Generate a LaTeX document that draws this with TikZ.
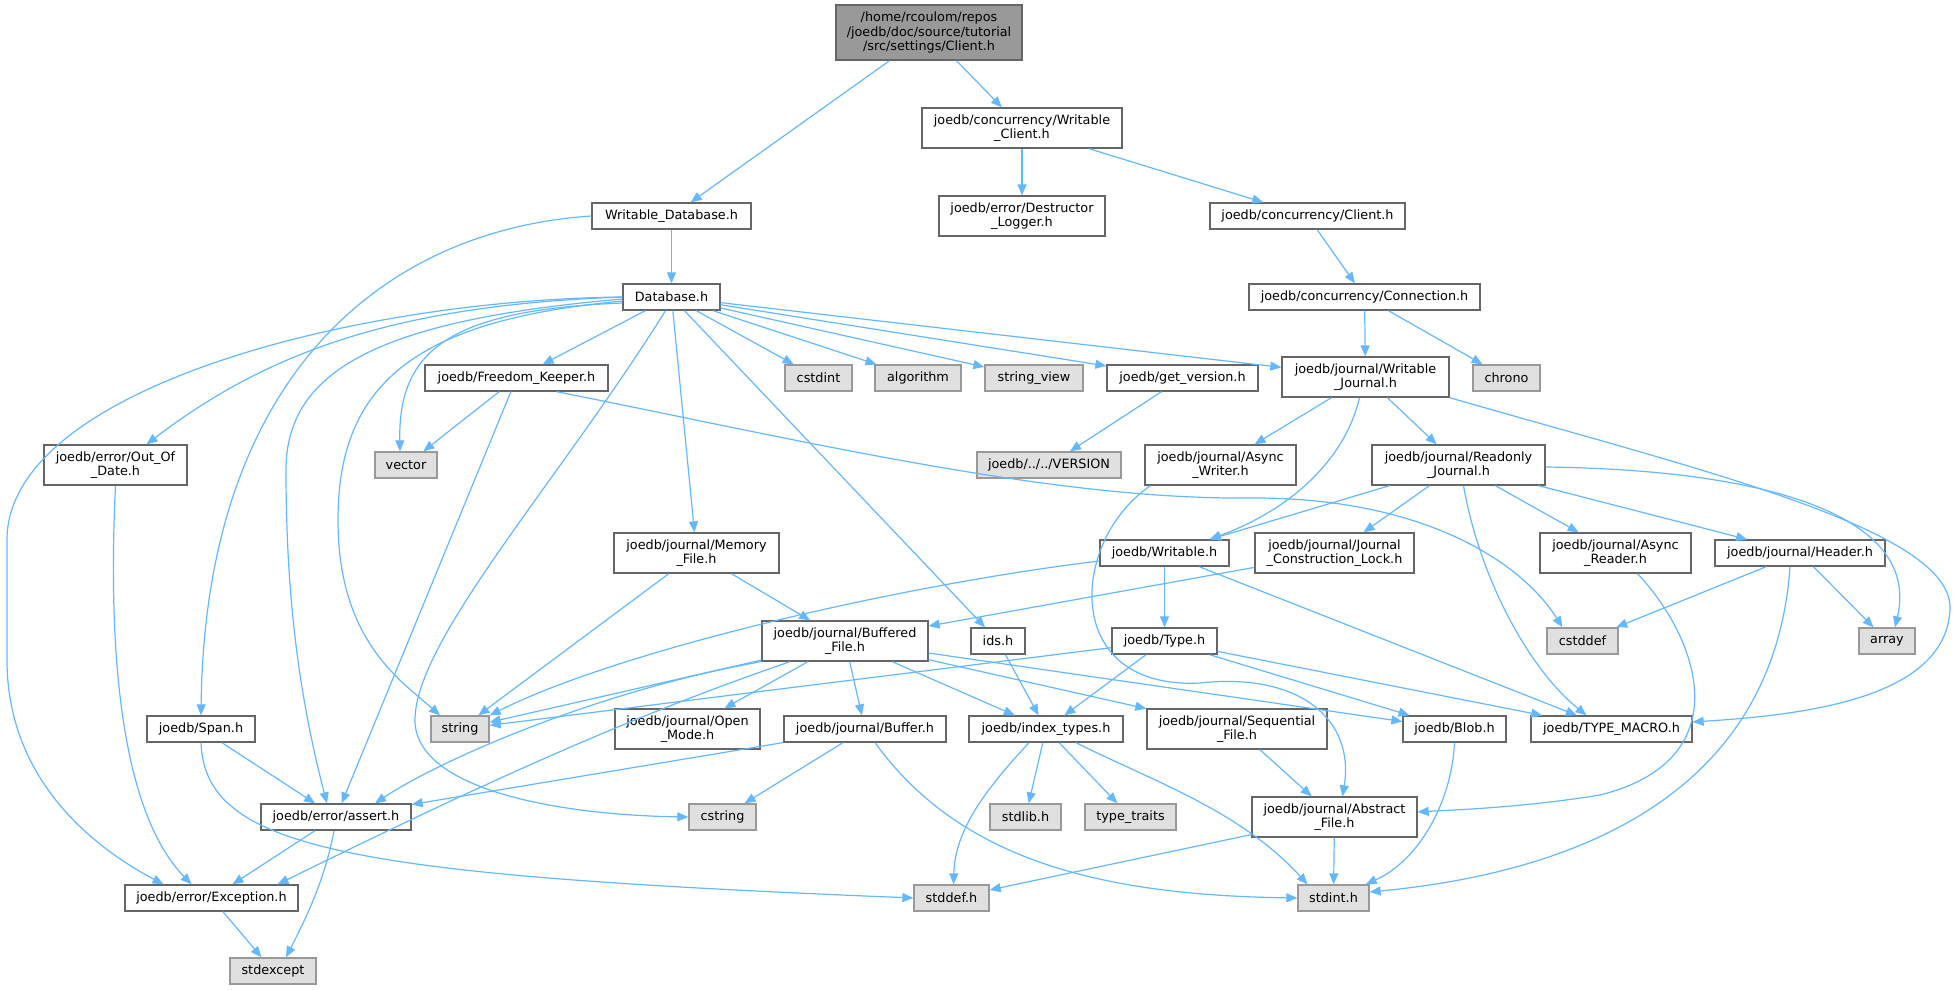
\documentclass[tikz,border=0pt]{standalone}
\usepackage{fontspec}
\setmainfont{DejaVu Sans}
\usetikzlibrary{arrows.meta}

\definecolor{edgeblue}{HTML}{63B8FF}
\definecolor{boxline}{HTML}{666666}
\definecolor{sysfill}{HTML}{E0E0E0}
\definecolor{sysline}{HTML}{999999}
\definecolor{rootfill}{HTML}{999999}

\tikzset{
  hfile/.style={draw=boxline,fill=white,line width=1.3pt,inner sep=0pt,minimum height=26pt,
    align=center,font=\fontsize{12.8}{14.6}\selectfont},
  hfiletwo/.style={hfile,minimum height=40pt},
  sysfile/.style={hfile,draw=sysline,fill=sysfill},
  rootfile/.style={hfile,fill=rootfill,minimum height=55pt},
  dep/.style={draw=edgeblue,line width=1.2pt,-{Triangle[length=11pt,width=9pt]}},
}

\begin{document}
\begin{tikzpicture}[x=1pt,y=-1pt]
\useasboundingbox (0,0) rectangle (1957,989);

\node[rootfile,minimum width=186pt] (root) at (929,32.5) {/home/rcoulom/repos\\/joedb/doc/source/tutorial\\/src/settings/Client.h};

\node[hfiletwo,minimum width=200pt] (wc) at (1022,128) {joedb/concurrency/Writable\\\_Client.h};
\node[hfile,minimum width=159pt] (wdb) at (671.5,216) {Writable\_Database.h};
\node[hfiletwo,minimum width=166pt] (dlog) at (1022,216) {joedb/error/Destructor\\\_Logger.h};
\node[hfile,minimum width=195pt] (cclient) at (1307.5,216) {joedb/concurrency/Client.h};

\node[hfile,minimum width=97pt] (db) at (671.5,297) {Database.h};
\node[hfile,minimum width=231pt] (conn) at (1364.5,297) {joedb/concurrency/Connection.h};

\node[hfile,minimum width=183pt] (fk) at (516.5,378) {joedb/Freedom\_Keeper.h};
\node[sysfile,minimum width=67pt] (cstdint) at (818.5,378) {cstdint};
\node[sysfile,minimum width=86pt] (algo) at (918,378) {algorithm};
\node[sysfile,minimum width=98pt] (sview) at (1034,378) {string\_view};
\node[hfile,minimum width=151pt] (getver) at (1182.5,378) {joedb/get\_version.h};
\node[hfiletwo,minimum width=167pt] (wj) at (1365.5,377) {joedb/journal/Writable\\\_Journal.h};
\node[sysfile,minimum width=67pt] (chrono) at (1506.5,378) {chrono};

\node[hfiletwo,minimum width=143pt] (ood) at (115.5,465) {joedb/error/Out\_Of\\\_Date.h};
\node[sysfile,minimum width=62pt] (vector) at (406,465) {vector};
\node[sysfile,minimum width=144pt] (version) at (1049,465) {joedb/../../VERSION};
\node[hfiletwo,minimum width=151pt] (aw) at (1220.5,465) {joedb/journal/Async\\\_Writer.h};
\node[hfiletwo,minimum width=173pt] (rj) at (1458.5,465) {joedb/journal/Readonly\\\_Journal.h};

\node[hfiletwo,minimum width=165pt] (mf) at (696.5,553) {joedb/journal/Memory\\\_File.h};
\node[hfile,minimum width=129pt] (writable) at (1164.5,553) {joedb/Writable.h};
\node[hfiletwo,minimum width=159pt] (jcl) at (1334.5,553) {joedb/journal/Journal\\\_Construction\_Lock.h};
\node[hfiletwo,minimum width=151pt] (ar) at (1615.5,553) {joedb/journal/Async\\\_Reader.h};
\node[hfile,minimum width=170pt] (header) at (1800,553) {joedb/journal/Header.h};

\node[hfiletwo,minimum width=166pt] (buf) at (845,641) {joedb/journal/Buffered\\\_File.h};
\node[hfile,minimum width=54pt] (ids) at (998,641) {ids.h};
\node[hfile,minimum width=105pt] (type) at (1164.5,641) {joedb/Type.h};
\node[sysfile,minimum width=71pt] (cstddef) at (1582.5,641) {cstddef};
\node[sysfile,minimum width=56pt] (array) at (1887,641) {array};

\node[hfile,minimum width=108pt] (span) at (201,729) {joedb/Span.h};
\node[sysfile,minimum width=58pt] (string) at (460,729) {string};
\node[hfiletwo,minimum width=145pt] (omode) at (687.5,729) {joedb/journal/Open\\\_Mode.h};
\node[hfile,minimum width=162pt] (buffer) at (865,729) {joedb/journal/Buffer.h};
\node[hfile,minimum width=154pt] (idx) at (1046,729) {joedb/index\_types.h};
\node[hfiletwo,minimum width=180pt] (seq) at (1237,729) {joedb/journal/Sequential\\\_File.h};
\node[hfile,minimum width=103pt] (blob) at (1454.5,729) {joedb/Blob.h};
\node[hfile,minimum width=161pt] (tm) at (1611.5,729) {joedb/TYPE\_MACRO.h};

\node[hfile,minimum width=150pt] (assert) at (336,817) {joedb/error/assert.h};
\node[sysfile,minimum width=67pt] (cstring) at (722.5,817) {cstring};
\node[sysfile,minimum width=71pt] (stdlib) at (1025.5,817) {stdlib.h};
\node[sysfile,minimum width=91pt] (ttraits) at (1130.5,817) {type\_traits};
\node[hfiletwo,minimum width=165pt] (af) at (1334.5,817) {joedb/journal/Abstract\\\_File.h};

\node[hfile,minimum width=173pt] (exc) at (211.5,898) {joedb/error/Exception.h};
\node[sysfile,minimum width=75pt] (stddef) at (951.5,898) {stddef.h};
\node[sysfile,minimum width=71pt] (stdint) at (1333.5,898) {stdint.h};
\node[sysfile,minimum width=86pt] (stdexcept) at (273,971) {stdexcept};

% top part
\draw[dep] (root) -- (wdb);
\draw[dep] (root) -- (wc);
\draw[dep] (wc) -- (dlog);
\draw[dep] (wc) -- (cclient);
\draw[dep] (cclient) -- (conn);
\draw[dep] (conn) -- (wj);
\draw[dep] (conn) -- (chrono);
\draw[dep] (wdb) -- (db);
\draw[dep] (wdb.west) .. controls (380,230) and (205,380) .. (span.north);

% Database.h
\draw[dep] (db.west) .. controls (350,300) and (7,390) .. (7,540) -- (7,660) .. controls (7,770) and (80,840) .. ([xshift=-48pt]exc.north);
\draw[dep] (db.west) .. controls (400,305) and (270,350) .. ([xshift=31pt]ood.north);
\draw[dep] ([yshift=-2pt]db.west) .. controls (380,320) and (286,370) .. (286,470) .. controls (286,600) and (300,700) .. ([xshift=-9pt]assert.north);
\draw[dep] ([yshift=-4pt]db.west) .. controls (420,320) and (338,380) .. (338,520) .. controls (338,640) and (400,680) .. ([xshift=-20pt]string.north);
\draw[dep] ([yshift=-6pt]db.west) .. controls (450,310) and (398,350) .. ([xshift=-6pt]vector.north);
\draw[dep] ([xshift=-6pt]db.south) .. controls (560,480) and (415,640) .. (415,720) .. controls (415,790) and (560,815) .. (cstring.west);
\draw[dep] (db) -- (fk);
\draw[dep] (db) -- (mf);
\draw[dep] (db) -- (ids);
\draw[dep] (db) -- (cstdint);
\draw[dep] (db) -- (algo);
\draw[dep] (db) -- (sview);
\draw[dep] (db) -- (getver);
\draw[dep] (db) -- (wj);

\draw[dep] (fk) -- (vector);
\draw[dep] (fk) -- (assert);
\draw[dep] ([xshift=40pt]fk.south) .. controls (800,440) and (1050,500) .. (1250,498) .. controls (1420,497) and (1520,560) .. ([xshift=-20pt]cstddef.north);
\draw[dep] (getver) -- (version);
\draw[dep] (ood.south) .. controls (110,600) and (110,800) .. ([xshift=-20pt]exc.north);

% journals
\draw[dep] (wj) -- (aw);
\draw[dep] (wj) -- (rj);
\draw[dep] ([xshift=-6pt]wj.south) .. controls (1345,460) and (1290,510) .. ([xshift=45pt]writable.north);
\draw[dep] (wj.south east) .. controls (1700,470) and (1955,530) .. (1950,610) .. controls (1945,700) and (1800,715) .. ([yshift=7pt]tm.east);
\draw[dep] ([xshift=-70pt]aw.south) .. controls (1070,540) and (1060,690) .. (1200,683) .. controls (1300,672) and (1355,720) .. ([xshift=8pt]af.north);
\draw[dep] (rj) -- (writable);
\draw[dep] (rj) -- (jcl);
\draw[dep] (rj) -- (ar);
\draw[dep] (rj) -- (header);
\draw[dep] ([xshift=5pt]rj.south) .. controls (1480,580) and (1530,670) .. ([xshift=-25pt]tm.north);
\draw[dep] ([yshift=-2pt]rj.east) .. controls (1780,470) and (1920,520) .. ([xshift=8pt]array.north);
\draw[dep] ([xshift=22pt]ar.south) .. controls (1700,640) and (1740,760) .. (1600,795) .. controls (1520,808) and (1450,810) .. ([yshift=5pt]af.east);
\draw[dep] (header) -- (cstddef);
\draw[dep] (header) -- (array);
\draw[dep] ([xshift=-10pt]header.south) .. controls (1775,780) and (1600,870) .. ([yshift=6pt]stdint.east);

\draw[dep] (mf) -- (buf);
\draw[dep] (mf) -- (string);
\draw[dep] ([yshift=-8pt]writable.west) .. controls (900,585) and (620,650) .. (string.north east);
\draw[dep] (writable) -- (type);
\draw[dep] (writable) -- (tm);
\draw[dep] (jcl) -- (buf);

% Buffered_File.h
\draw[dep] (buf) -- (string);
\draw[dep] (buf.south west) .. controls (600,690) and (440,760) .. ([xshift=39pt]assert.north);
\draw[dep] ([xshift=-55pt]buf.south) .. controls (620,720) and (470,790) .. ([xshift=66pt]exc.north);
\draw[dep] (buf) -- (omode);
\draw[dep] (buf) -- (buffer);
\draw[dep] (buf) -- (idx);
\draw[dep] (buf) -- (seq);
\draw[dep] (buf) -- (blob);

\draw[dep] (ids) -- (idx);
\draw[dep] (type) -- (string);
\draw[dep] (type) -- (idx);
\draw[dep] (type) -- (blob);
\draw[dep] (type) -- (tm);

% lower rows
\draw[dep] (span) -- (assert);
\draw[dep] (span.south) .. controls (205,850) and (350,875) .. (stddef.west);
\draw[dep] (buffer) -- (assert);
\draw[dep] (buffer) -- (cstring);
\draw[dep] ([xshift=10pt]buffer.south) .. controls (960,860) and (1100,895) .. (stdint.west);
\draw[dep] ([xshift=-17pt]idx.south) .. controls (985,790) and (955,830) .. ([xshift=2pt]stddef.north);
\draw[dep] (idx) -- (stdlib);
\draw[dep] (idx) -- (ttraits);
\draw[dep] ([xshift=30pt]idx.south) .. controls (1150,780) and (1240,810) .. ([xshift=-26pt]stdint.north);
\draw[dep] (seq) -- (af);
\draw[dep] (blob.south) .. controls (1452,800) and (1420,860) .. ([xshift=-4pt]stdint.north east);
\draw[dep] (assert) -- (exc);
\draw[dep] ([xshift=-2pt]assert.south) .. controls (325,880) and (305,920) .. ([xshift=13pt]stdexcept.north);
\draw[dep] (af) -- (stddef);
\draw[dep] (af) -- (stdint);
\draw[dep] (exc) -- (stdexcept);
\end{tikzpicture}
\end{document}
